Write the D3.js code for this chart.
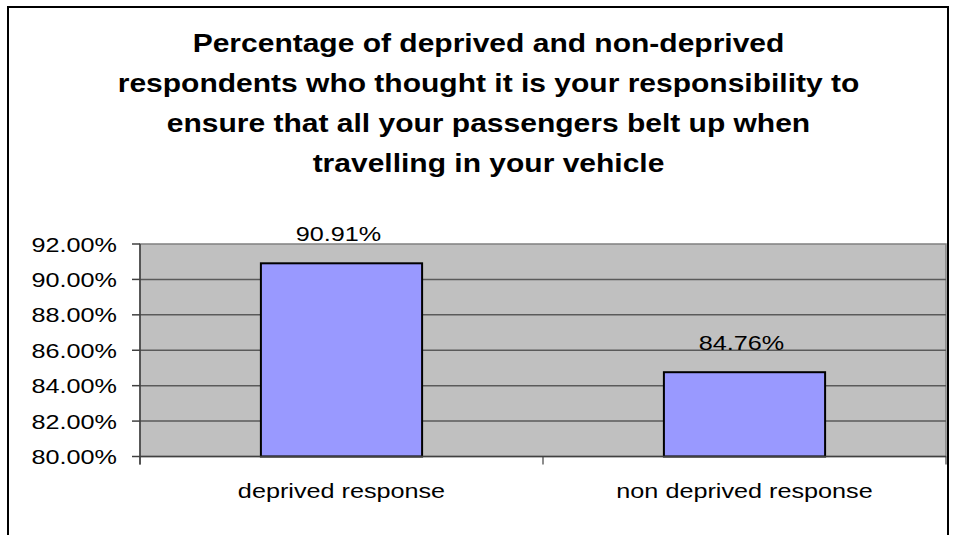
<!DOCTYPE html>
<html>
<head>
<meta charset="utf-8">
<script src="https://cdn.jsdelivr.net/npm/d3@7"></script>
<style>
  html, body { margin: 0; padding: 0; background: #fff; }
  svg { display: block; font-family: "Liberation Sans", Arial, sans-serif; }
</style>
</head>
<body>
<svg id="chart" width="953" height="535"></svg>
<script>
const titleLines = [
  "Percentage of deprived and non-deprived",
  "respondents who thought it is your responsibility to",
  "ensure that all your passengers belt up when",
  "travelling in your vehicle"
];
const categories = ["deprived response", "non deprived response"];
const values = [90.91, 84.76];
const valueLabels = ["90.91%", "84.76%"];
const yTicks = [80, 82, 84, 86, 88, 90, 92];
const yTickLabels = ["80.00%", "82.00%", "84.00%", "86.00%", "88.00%", "90.00%", "92.00%"];

const svg = d3.select("#chart");
const SX = 1.2; // horizontal stretch of text in the reference

// outer chart border
svg.append("rect").attr("x", 8).attr("y", 7).attr("width", 940).attr("height", 540)
  .attr("fill", "#fff").attr("stroke", "#000").attr("stroke-width", 2);

const plot = { left: 140, right: 946, top: 244, bottom: 456.5 };

const x = d3.scaleBand().domain(categories).range([plot.left, plot.right])
  .paddingInner(0.6).paddingOuter(0.3);
const xEdge = d3.scaleBand().domain(categories).range([plot.left, plot.right]);
const y = d3.scaleLinear().domain([80, 92]).range([plot.bottom, plot.top]);

// title
const titleY = [52, 92, 132, 172];
titleLines.forEach((t, i) => {
  svg.append("text")
    .attr("transform", `translate(488.5,${titleY[i]}) scale(${SX},1)`)
    .attr("text-anchor", "middle")
    .attr("font-size", 25).attr("font-weight", "bold").attr("fill", "#000")
    .text(t);
});

// plot background
svg.append("rect").attr("x", plot.left).attr("y", plot.top)
  .attr("width", plot.right - plot.left).attr("height", plot.bottom - plot.top)
  .attr("fill", "#c0c0c0").attr("stroke", "#808080").attr("stroke-width", 1.5);

// gridlines
svg.append("g").selectAll("line").data(yTicks.filter(d => d > 80 && d < 92)).join("line")
  .attr("x1", plot.left).attr("x2", plot.right)
  .attr("y1", d => y(d)).attr("y2", d => y(d))
  .attr("stroke", "#5a5a5a").attr("stroke-width", 1.5);

// bars
svg.append("g").selectAll("rect").data(categories).join("rect")
  .attr("x", d => x(d)).attr("width", x.bandwidth())
  .attr("y", (d, i) => y(values[i])).attr("height", (d, i) => y(80) - y(values[i]))
  .attr("fill", "#9999ff").attr("stroke", "#000").attr("stroke-width", 2);

// value labels
svg.append("g").selectAll("text").data(categories).join("text")
  .attr("transform", (d, i) => `translate(${x(d) + x.bandwidth() / 2 - 3},${y(values[i]) - 22}) scale(${SX},1)`)
  .attr("text-anchor", "middle").attr("font-size", 21).attr("fill", "#000")
  .text((d, i) => valueLabels[i]);

// y axis
const yAxis = svg.append("g");
yAxis.append("line").attr("x1", plot.left).attr("x2", plot.left)
  .attr("y1", plot.top).attr("y2", plot.bottom + 8)
  .attr("stroke", "#404040").attr("stroke-width", 1.5);
yAxis.selectAll("line.tick").data(yTicks).join("line").attr("class", "tick")
  .attr("x1", plot.left - 8).attr("x2", plot.left)
  .attr("y1", d => y(d)).attr("y2", d => y(d))
  .attr("stroke", "#404040").attr("stroke-width", 1.5);
yAxis.selectAll("text").data(yTicks).join("text")
  .attr("transform", d => `translate(117,${y(d) + 7.5}) scale(${SX},1)`)
  .attr("text-anchor", "end").attr("font-size", 21).attr("fill", "#000")
  .text((d, i) => yTickLabels[i]);

// x axis
const xAxis = svg.append("g");
xAxis.append("line").attr("x1", plot.left).attr("x2", plot.right)
  .attr("y1", plot.bottom).attr("y2", plot.bottom)
  .attr("stroke", "#404040").attr("stroke-width", 1.5);
const edges = categories.map(c => xEdge(c)).concat([plot.right]);
xAxis.selectAll("line.tick").data(edges).join("line").attr("class", "tick")
  .attr("x1", d => d).attr("x2", d => d)
  .attr("y1", plot.bottom).attr("y2", plot.bottom + 8)
  .attr("stroke", "#404040").attr("stroke-width", 1.2);
xAxis.selectAll("text").data(categories).join("text")
  .attr("transform", d => `translate(${x(d) + x.bandwidth() / 2},498) scale(${SX},1)`)
  .attr("text-anchor", "middle").attr("font-size", 21).attr("fill", "#000")
  .text(d => d);
</script>
</body>
</html>
